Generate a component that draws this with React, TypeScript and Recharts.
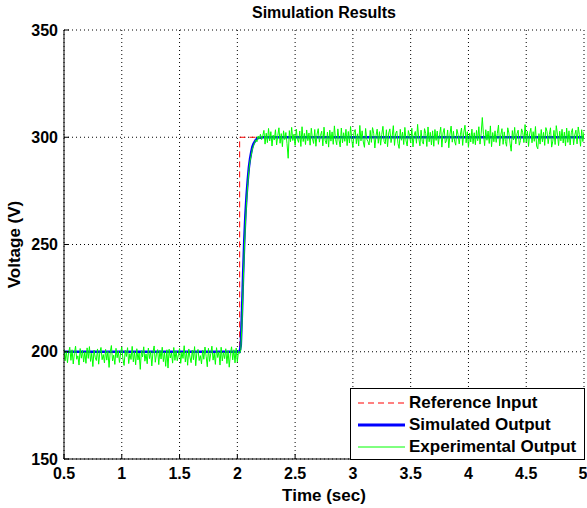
import { CartesianGrid, Line, LineChart, XAxis, YAxis } from 'recharts';

const FONT = '"Liberation Sans", Arial, Helvetica, sans-serif';

const X_TICKS = [0.5, 1, 1.5, 2, 2.5, 3, 3.5, 4, 4.5, 5];
const Y_TICKS = [150, 200, 250, 300, 350];

// reference input: step at ~2.02 s
const REF_TIME = [0.5, 2.02, 2.02, 5];
const REF_VALUE = [200, 200, 300, 300];

// simulated output
const SIM_TIME = [0.5, 2.02, 2.03, 2.04, 2.05, 2.06, 2.07, 2.08, 2.09, 2.1, 2.11, 2.12, 2.13, 2.14, 2.16, 2.18, 2.22, 5];
const SIM_VALUE = [200, 200, 203, 218, 236, 252, 264, 273, 280, 286, 290, 293, 295.5, 297, 298.8, 299.6, 300, 300];

// experimental output, sampled every 10 ms from 0.5 s
const EXP_START = 0.5;
const EXP_STEP = 0.01;
const EXP_BEFORE = [
  201.2, 195.8, 200.4, 194.9, 199.7, 202.1, 196.0, 200.9, 194.3, 199.2,
  202.6, 196.5, 198.1, 193.8, 201.5, 197.0, 200.6, 195.2, 199.9, 194.6,
  201.8, 196.9, 202.4, 195.5, 199.3, 193.1, 200.8, 197.4, 195.9, 201.3,
  194.2, 199.6, 202.0, 196.3, 198.7, 194.8, 201.1, 196.1, 200.2, 192.7,
  199.8, 202.9, 195.7, 198.4, 194.1, 201.6, 197.2, 200.3, 195.0, 199.5,
  202.2, 196.7, 193.6, 200.7, 197.8, 201.9, 194.5, 199.1, 196.4, 202.5,
  195.3, 200.0, 193.9, 201.4, 196.2, 199.4, 191.8, 200.5, 197.6, 202.3,
  195.6, 199.0, 194.4, 201.7, 196.8, 200.1, 193.4, 199.8, 202.7, 195.1,
  198.9, 201.0, 194.0, 200.6, 196.6, 202.1, 195.4, 199.7, 193.2, 200.9,
  192.4, 201.2, 197.1, 199.5, 194.7, 202.0, 196.0, 200.4, 195.8, 198.6,
  201.5, 194.6, 199.9, 196.9, 202.8, 195.2, 200.2, 193.7, 201.3, 197.5,
  194.9, 200.8, 196.3, 202.4, 193.5, 199.6, 201.1, 195.9, 198.2, 194.3,
  200.7, 196.5, 202.2, 197.9, 193.0, 201.6, 195.5, 199.2, 202.6, 196.1,
  199.4, 194.1, 201.9, 197.3, 200.0, 193.8, 202.1, 195.7, 199.8, 196.8,
  201.4, 194.5, 200.5, 192.8, 199.0, 202.3, 196.2, 200.9, 194.8, 201.7,
  195.3, 200.3, 199.2,
];
const EXP_RISE = [
  201.0, 213.0, 231.0, 247.0, 260.0, 270.0, 278.0, 284.5, 289.0, 291.5,
  294.5, 296.0, 297.5, 298.8, 297.9, 300.6, 299.2, 301.4, 298.9, 300.7,
];
const EXP_AFTER = [
  303.2, 296.8, 301.9, 297.5, 304.1, 298.3, 302.6, 295.9, 301.0, 298.7,
  303.5, 296.4, 300.8, 304.4, 297.2, 301.7, 295.6, 303.0, 298.9, 302.2,
  297.0, 290.2, 303.1, 297.9, 304.6, 298.5, 301.4, 296.2, 303.8, 299.1,
  297.6, 302.9, 295.7, 304.9, 298.0, 301.8, 296.6, 303.4, 298.4, 302.0,
  296.3, 304.2, 299.4, 297.1, 303.6, 295.8, 301.5, 304.0, 297.7, 300.9,
  302.8, 296.0, 304.7, 298.6, 296.9, 302.4, 295.4, 303.3, 298.2, 302.5,
  296.7, 305.3, 299.0, 296.5, 303.9, 298.8, 295.5, 304.3, 297.4, 302.1,
  298.1, 303.7, 296.1, 302.7, 297.3, 305.0, 298.9, 295.2, 302.3, 303.6,
  297.0, 301.6, 295.9, 305.5, 298.3, 303.0, 297.8, 295.3, 304.1, 299.2,
  298.0, 296.4, 303.2, 297.6, 304.5, 301.9, 295.0, 300.7, 303.8, 297.2,
  302.6, 296.3, 301.3, 305.1, 298.0, 296.9, 303.5, 295.6, 302.0, 303.9,
  297.5, 300.5, 305.4, 296.2, 301.8, 302.9, 297.1, 294.8, 303.7, 298.6,
  302.4, 296.6, 304.6, 298.3, 295.9, 303.1, 301.0, 297.3, 304.2, 295.5,
  300.9, 302.7, 297.2, 306.0, 299.5, 296.0, 303.3, 298.1, 296.8, 304.0,
  301.7, 295.7, 304.8, 297.9, 302.3, 296.4, 303.0, 295.8, 303.6, 298.5,
  302.9, 296.7, 301.2, 304.7, 295.4, 302.0, 304.1, 297.3, 298.4, 303.4,
  295.1, 301.5, 305.2, 297.7, 302.8, 298.2, 296.3, 303.7, 301.4, 296.9,
  301.1, 304.3, 296.2, 302.4, 305.6, 297.4, 302.6, 295.3, 301.9, 297.8,
  303.8, 297.0, 302.1, 296.5, 303.2, 298.4, 304.9, 296.8, 301.6, 309.2,
  301.3, 296.1, 303.5, 298.6, 302.9, 297.1, 305.3, 295.6, 302.2, 297.9,
  303.0, 297.6, 301.8, 305.7, 296.0, 301.2, 304.0, 296.7, 302.5, 298.0,
  295.8, 304.4, 302.0, 297.2, 293.5, 303.1, 298.7, 304.6, 296.9, 301.6,
  303.3, 296.3, 298.5, 303.9, 302.1, 297.5, 305.9, 297.8, 302.8, 295.7,
  301.9, 304.2, 297.4, 302.6, 298.1, 305.0, 295.9, 294.6, 301.7, 296.8,
  303.6, 297.9, 302.3, 296.2, 304.5, 302.7, 297.0, 301.3, 304.4, 295.4,
  298.2, 303.2, 296.6, 305.4, 301.5, 296.1, 302.8, 298.3, 303.7, 297.3,
  302.4, 295.9, 304.3, 297.6, 303.0, 296.4, 302.1, 304.0, 296.5, 301.1,
  303.3, 296.9, 304.8, 301.2, 295.8, 303.5, 298.0, 302.6,
];

const refData = REF_TIME.map((t, i) => ({ t, v: REF_VALUE[i] }));
const simData = SIM_TIME.map((t, i) => ({ t, v: SIM_VALUE[i] }));
const expData = [...EXP_BEFORE, ...EXP_RISE, ...EXP_AFTER].map((v, i) => ({
  t: Number((EXP_START + i * EXP_STEP).toFixed(2)),
  v,
}));

const LEGEND = [
  { name: 'Reference Input', color: '#ff0000', width: 1, dash: '6 4' },
  { name: 'Simulated Output', color: '#0000ff', width: 3, dash: undefined },
  { name: 'Experimental Output', color: '#00ff00', width: 1, dash: undefined },
];

const tickStyle = { fill: '#000', fontSize: 16, fontWeight: 700, fontFamily: FONT };
const labelStyle = { fill: '#000', fontSize: 17, fontWeight: 700, fontFamily: FONT };

export default function App() {
  return (
    <div
      style={{
        position: 'absolute',
        left: 0,
        top: 0,
        width: 587,
        height: 508,
        background: '#fff',
        fontFamily: FONT,
        fontWeight: 700,
        color: '#000',
      }}
    >
      <LineChart width={587} height={508} margin={{ top: 30, right: 3, bottom: 0, left: 0 }}>
        <CartesianGrid stroke="#000" strokeDasharray="1 3" />
        <XAxis
          dataKey="t"
          type="number"
          domain={[0.5, 5]}
          ticks={X_TICKS}
          allowDataOverflow
          height={49}
          stroke="#000"
          tickSize={-5}
          tickMargin={14}
          tick={tickStyle}
          label={{ value: 'Time (sec)', position: 'insideBottom', offset: 7, style: labelStyle }}
        />
        <YAxis
          dataKey="v"
          type="number"
          domain={[150, 350]}
          ticks={Y_TICKS}
          allowDataOverflow
          width={64}
          stroke="#000"
          tickSize={-5}
          tickMargin={11}
          tick={tickStyle}
          label={{ value: 'Voltage (V)', angle: -90, position: 'center', dx: -18, style: labelStyle }}
        />
        <Line
          data={refData}
          dataKey="v"
          stroke="#ff0000"
          strokeWidth={1}
          strokeDasharray="6 4"
          dot={false}
          isAnimationActive={false}
        />
        <Line
          data={simData}
          dataKey="v"
          stroke="#0000ff"
          strokeWidth={2.5}
          dot={false}
          isAnimationActive={false}
        />
        <Line
          data={expData}
          dataKey="v"
          stroke="#00ff00"
          strokeWidth={1}
          dot={false}
          isAnimationActive={false}
        />
      </LineChart>

      <div
        style={{
          position: 'absolute',
          left: 64,
          top: 4,
          width: 520,
          textAlign: 'center',
          fontSize: 16,
          lineHeight: '18px',
        }}
      >
        Simulation Results
      </div>

      <div
        style={{
          position: 'absolute',
          left: 350,
          top: 388,
          width: 233,
          height: 70,
          border: '1px solid #000',
          background: '#fff',
        }}
      >
        {LEGEND.map((item, i) => (
          <div
            key={item.name}
            style={{
              position: 'absolute',
              left: 0,
              top: 3 + i * 22,
              height: 22,
              display: 'flex',
              alignItems: 'center',
              fontSize: 17,
              whiteSpace: 'nowrap',
            }}
          >
            <svg width={58} height={22} style={{ display: 'block' }}>
              <line
                x1={7}
                x2={54}
                y1={11}
                y2={11}
                stroke={item.color}
                strokeWidth={item.width}
                strokeDasharray={item.dash}
              />
            </svg>
            <span>{item.name}</span>
          </div>
        ))}
      </div>
    </div>
  );
}
